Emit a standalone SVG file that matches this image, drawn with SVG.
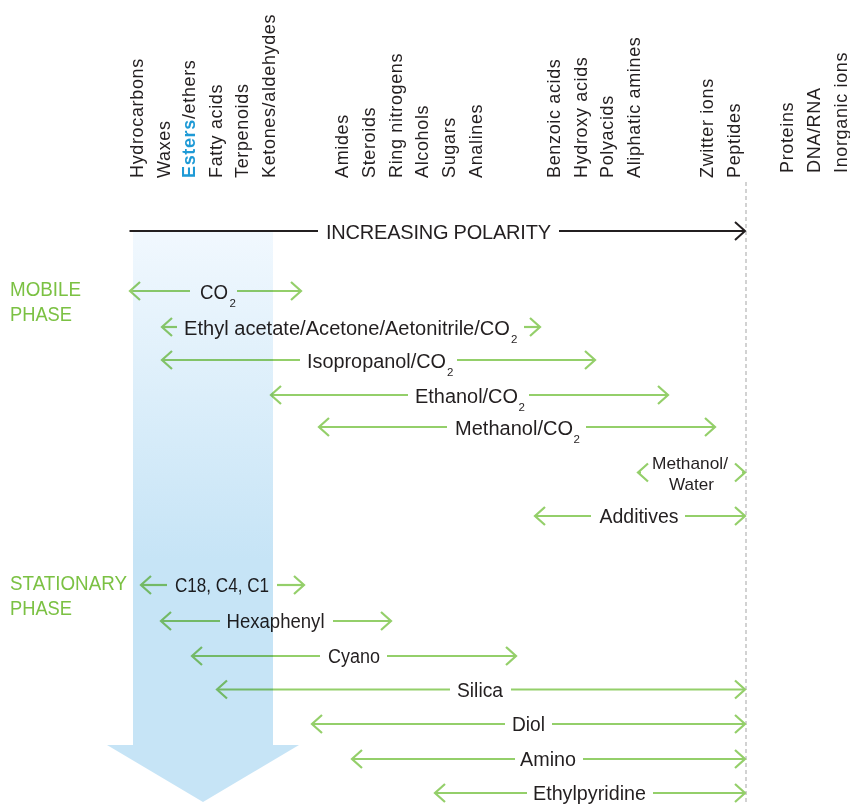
<svg xmlns="http://www.w3.org/2000/svg" width="850" height="804" viewBox="0 0 850 804">
<defs>
<linearGradient id="blueGrad" gradientUnits="userSpaceOnUse" x1="0" y1="232" x2="0" y2="560">
<stop offset="0" stop-color="#f1f8fe"/>
<stop offset="1" stop-color="#c6e4f6"/>
</linearGradient>
<marker id="gh" markerUnits="userSpaceOnUse" markerWidth="16" markerHeight="24" refX="11" refY="11" orient="auto-start-reverse" viewBox="0 0 16 24">
<path d="M1,2 L11,11 L1,20" fill="none" stroke="#94cf6a" stroke-width="2.2"/>
</marker>
<marker id="bh" markerUnits="userSpaceOnUse" markerWidth="16" markerHeight="24" refX="11" refY="11" orient="auto" viewBox="0 0 16 24">
<path d="M1,2 L11,11 L1,20" fill="none" stroke="#231f20" stroke-width="2"/>
</marker>
</defs>
<style>
.v{font-family:"Liberation Sans",Arial,sans-serif;font-size:18px;letter-spacing:0.65px;fill:#231f20}
.t{font-family:"Liberation Sans",Arial,sans-serif;font-size:20px;fill:#231f20}
.s{font-family:"Liberation Sans",Arial,sans-serif;font-size:11.5px;fill:#231f20}
.sm{font-family:"Liberation Sans",Arial,sans-serif;font-size:17px;fill:#231f20}
.ph{font-family:"Liberation Sans",Arial,sans-serif;font-size:19.5px;fill:#7bc143}
.gl{stroke:#94cf6a;stroke-width:2.2;fill:none;marker-start:url(#gh)}
.gr{stroke:#94cf6a;stroke-width:2.2;fill:none;marker-end:url(#gh)}
</style>
<rect width="850" height="804" fill="#ffffff"/>

<g id="compound-labels">
<text class="v" transform="translate(143.3,178) rotate(-90)">Hydrocarbons</text>
<text class="v" transform="translate(170,178) rotate(-90)">Waxes</text>
<text class="v" transform="translate(195,178) rotate(-90)"><tspan font-weight="bold" fill="#1e9ad6">Esters</tspan>/ethers</text>
<text class="v" transform="translate(221.7,178) rotate(-90)">Fatty acids</text>
<text class="v" transform="translate(248.3,178) rotate(-90)">Terpenoids</text>
<text class="v" transform="translate(275,178) rotate(-90)">Ketones/aldehydes</text>
<text class="v" transform="translate(348,178) rotate(-90)">Amides</text>
<text class="v" transform="translate(375,178) rotate(-90)">Steroids</text>
<text class="v" transform="translate(401.7,178) rotate(-90)">Ring nitrogens</text>
<text class="v" transform="translate(428,178) rotate(-90)">Alcohols</text>
<text class="v" transform="translate(455,178) rotate(-90)">Sugars</text>
<text class="v" transform="translate(481.7,178) rotate(-90)">Analines</text>
<text class="v" transform="translate(560,178) rotate(-90)">Benzoic acids</text>
<text class="v" transform="translate(586.7,178) rotate(-90)">Hydroxy acids</text>
<text class="v" transform="translate(613,178) rotate(-90)">Polyacids</text>
<text class="v" transform="translate(640,178) rotate(-90)">Aliphatic amines</text>
<text class="v" transform="translate(713,178) rotate(-90)">Zwitter ions</text>
<text class="v" transform="translate(740,178) rotate(-90)">Peptides</text>
<text class="v" transform="translate(793,173) rotate(-90)">Proteins</text>
<text class="v" transform="translate(820,173) rotate(-90)">DNA/RNA</text>
<text class="v" transform="translate(846.7,173) rotate(-90)">Inorganic ions</text>
</g>

<g id="polarity-axis">
<line x1="746" y1="182" x2="746" y2="804" stroke="#c4c4c4" stroke-width="1.5" stroke-dasharray="4 3"/>
<line x1="129.5" y1="231" x2="318" y2="231" stroke="#231f20" stroke-width="2.2"/>
<line x1="559" y1="231" x2="745" y2="231" stroke="#231f20" stroke-width="2.2" marker-end="url(#bh)"/>
<text class="t" x="326" y="238.5" textLength="225" lengthAdjust="spacing">INCREASING POLARITY</text>
</g>

<g id="phase-labels">
<text class="ph" x="10" y="296" textLength="71" lengthAdjust="spacingAndGlyphs">MOBILE</text>
<text class="ph" x="10" y="320.5" textLength="62" lengthAdjust="spacingAndGlyphs">PHASE</text>
<text class="ph" x="10" y="590" textLength="117" lengthAdjust="spacingAndGlyphs">STATIONARY</text>
<text class="ph" x="10" y="615" textLength="62" lengthAdjust="spacingAndGlyphs">PHASE</text>
</g>

<g id="connectors">
<line class="gl" x1="130" y1="291" x2="190" y2="291"/><line class="gr" x1="237" y1="291" x2="301" y2="291"/>
<line class="gl" x1="162" y1="327" x2="177" y2="327"/><line class="gr" x1="524" y1="327" x2="540" y2="327"/>
<line class="gl" x1="162" y1="360" x2="300" y2="360"/><line class="gr" x1="457" y1="360" x2="595" y2="360"/>
<line class="gl" x1="271" y1="395" x2="408" y2="395"/><line class="gr" x1="529" y1="395" x2="668" y2="395"/>
<line class="gl" x1="319" y1="427" x2="447" y2="427"/><line class="gr" x1="586" y1="427" x2="715" y2="427"/>
<line class="gl" x1="638" y1="472.5" x2="641" y2="472.5"/><line class="gr" x1="742" y1="472.5" x2="745" y2="472.5"/>
<line class="gl" x1="535" y1="516" x2="591" y2="516"/><line class="gr" x1="685" y1="516" x2="745" y2="516"/>
<line class="gl" x1="141" y1="585" x2="167" y2="585"/><line class="gr" x1="277" y1="585" x2="304" y2="585"/>
<line class="gl" x1="161" y1="621" x2="220" y2="621"/><line class="gr" x1="333" y1="621" x2="391" y2="621"/>
<line class="gl" x1="192" y1="656" x2="320" y2="656"/><line class="gr" x1="387" y1="656" x2="516" y2="656"/>
<line class="gl" x1="217" y1="689.5" x2="450" y2="689.5"/><line class="gr" x1="511" y1="689.5" x2="745" y2="689.5"/>
<line class="gl" x1="312" y1="724" x2="505" y2="724"/><line class="gr" x1="552" y1="724" x2="745" y2="724"/>
<line class="gl" x1="352" y1="759" x2="515" y2="759"/><line class="gr" x1="583" y1="759" x2="745" y2="759"/>
<line class="gl" x1="435" y1="793" x2="527" y2="793"/><line class="gr" x1="653" y1="793" x2="745" y2="793"/>
</g>

<g id="mobile-co2"><text class="t" x="200" y="298.5" textLength="28" lengthAdjust="spacingAndGlyphs">CO</text><text class="s" x="229.5" y="306.5">2</text></g>
<g id="mobile-ethylacetate"><text class="t" x="184" y="334.5" textLength="326" lengthAdjust="spacingAndGlyphs">Ethyl acetate/Acetone/Aetonitrile/CO</text><text class="s" x="511" y="342.5">2</text></g>
<g id="mobile-isopropanol"><text class="t" x="307" y="367.5" textLength="139" lengthAdjust="spacingAndGlyphs">Isopropanol/CO</text><text class="s" x="447" y="375.5">2</text></g>
<g id="mobile-ethanol"><text class="t" x="415" y="402.5" textLength="103" lengthAdjust="spacingAndGlyphs">Ethanol/CO</text><text class="s" x="518.5" y="410.5">2</text></g>
<g id="mobile-methanol"><text class="t" x="455" y="434.5" textLength="118" lengthAdjust="spacingAndGlyphs">Methanol/CO</text><text class="s" x="573.5" y="442.5">2</text></g>
<g id="mobile-methanol-water"><text class="sm" x="652" y="469" textLength="76" lengthAdjust="spacingAndGlyphs">Methanol/</text><text class="sm" x="669" y="490" textLength="45" lengthAdjust="spacingAndGlyphs">Water</text></g>
<g id="mobile-additives"><text class="t" x="599.5" y="523" textLength="79" lengthAdjust="spacingAndGlyphs">Additives</text></g>
<g id="stationary-c18"><text class="t" x="175" y="592" textLength="94" lengthAdjust="spacingAndGlyphs">C18, C4, C1</text></g>
<g id="stationary-hexaphenyl"><text class="t" x="226.5" y="628" textLength="98" lengthAdjust="spacingAndGlyphs">Hexaphenyl</text></g>
<g id="stationary-cyano"><text class="t" x="328" y="663" textLength="52" lengthAdjust="spacingAndGlyphs">Cyano</text></g>
<g id="stationary-silica"><text class="t" x="457" y="696.5" textLength="46" lengthAdjust="spacingAndGlyphs">Silica</text></g>
<g id="stationary-diol"><text class="t" x="512" y="731" textLength="33" lengthAdjust="spacingAndGlyphs">Diol</text></g>
<g id="stationary-amino"><text class="t" x="520" y="766" textLength="56" lengthAdjust="spacingAndGlyphs">Amino</text></g>
<g id="stationary-ethylpyridine"><text class="t" x="533" y="800" textLength="113" lengthAdjust="spacingAndGlyphs">Ethylpyridine</text></g>

<g id="polarity-flow-arrow" style="mix-blend-mode:multiply">
<path d="M133,232 H273 V745 H299 L203,802 L107,745 H133 Z" fill="url(#blueGrad)"/>
</g>
</svg>
